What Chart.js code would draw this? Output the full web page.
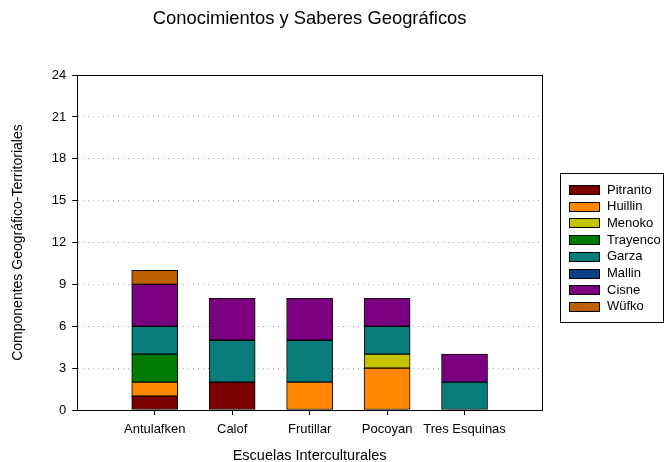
<!DOCTYPE html>
<html>
<head>
<meta charset="utf-8">
<script src="https://cdn.jsdelivr.net/npm/chart.js@4"></script>
<style>
  html, body { margin: 0; padding: 0; background: #fff; }
  #wrap { width: 665px; height: 462px; }
</style>
</head>
<body>
<div id="wrap"><canvas id="c" width="665" height="462"></canvas></div>
<script>
// categories padded with empty slots so bars sit one step in from each side
const escuelas = ['', 'Antulafken', 'Calof', 'Frutillar', 'Pocoyan', 'Tres Esquinas', ''];

const pitranto = [null, 1, 2, null, null, null, null];
const huillin  = [null, 1, null, 2, 3, null, null];
const menoko   = [null, null, null, null, 1, null, null];
const trayenco = [null, 2, null, null, null, null, null];
const garza    = [null, 2, 3, 3, 2, 2, null];
const mallin   = [null, null, null, null, null, null, null];
const cisne    = [null, 3, 3, 3, 2, 2, null];
const wufko    = [null, 1, null, null, null, null, null];

const yTicks = [0, 3, 6, 9, 12, 15, 18, 21, 24];

const series = [
  { label: 'Pitranto', data: pitranto, color: '#7b0000' },
  { label: 'Huillin',  data: huillin,  color: '#ff8800' },
  { label: 'Menoko',   data: menoko,   color: '#c4c400' },
  { label: 'Trayenco', data: trayenco, color: '#007b00' },
  { label: 'Garza',    data: garza,    color: '#087b7b' },
  { label: 'Mallin',   data: mallin,   color: '#0a3f86' },
  { label: 'Cisne',    data: cisne,    color: '#7b0080' },
  { label: 'Wüfko',    data: wufko,    color: '#bf6000' },
];

const FONT = "'Liberation Sans', Arial, sans-serif";

// box around the plot area
const framePlugin = {
  id: 'frame',
  afterDraw(chart) {
    const { ctx, chartArea: a } = chart;
    ctx.save();
    ctx.strokeStyle = '#000';
    ctx.lineWidth = 1;
    ctx.setLineDash([]);
    ctx.strokeRect(Math.round(a.left) + 0.5, Math.round(a.top) + 0.5,
                   Math.round(a.right - a.left), Math.round(a.bottom - a.top));
    ctx.restore();
  }
};

// boxed legend to the right of the plot, built from the datasets
const sideLegend = {
  id: 'sideLegend',
  afterDraw(chart) {
    const { ctx, chartArea: a } = chart;
    const sets = chart.data.datasets;
    const rowH = 16.7;
    const w = 103, h = 149;
    const x0 = Math.round(a.right) + 18;
    const y0 = Math.round((a.top + a.bottom) / 2 - h / 2) + 5;
    ctx.save();
    ctx.strokeStyle = '#000';
    ctx.lineWidth = 1;
    ctx.strokeRect(x0 + 0.5, y0 + 0.5, w, h);
    ctx.font = `13px ${FONT}`;
    ctx.textBaseline = 'middle';
    sets.forEach((ds, i) => {
      const cy = y0 + 16.5 + i * rowH;
      const by = Math.round(cy - 4.5);
      ctx.fillStyle = ds.backgroundColor;
      ctx.fillRect(x0 + 9, by, 30, 9);
      ctx.strokeStyle = '#000';
      ctx.strokeRect(x0 + 9.5, by + 0.5, 30, 9);
      ctx.fillStyle = '#000';
      ctx.fillText(ds.label, x0 + 47, cy + 0.5);
    });
    ctx.restore();
  }
};

new Chart(document.getElementById('c'), {
  type: 'bar',
  data: {
    labels: escuelas,
    datasets: series.map(s => ({
      label: s.label,
      data: s.data,
      backgroundColor: s.color,
      borderColor: '#000',
      borderWidth: 1,
      borderSkipped: false,
      barThickness: 46,
    })),
  },
  options: {
    responsive: false,
    animation: false,
    layout: { padding: { top: 0, right: 123, bottom: -3, left: 10 } },
    plugins: {
      title: {
        display: true,
        text: 'Conocimientos y Saberes Geográficos',
        fullSize: false,
        color: '#000',
        font: { family: FONT, size: 18.4, weight: 'normal' },
        padding: { top: 8, bottom: 45 },
      },
      legend: { display: false },
      tooltip: { enabled: false },
    },
    scales: {
      x: {
        stacked: true,
        offset: false,
        border: { color: '#000', width: 1 },
        grid: {
          offset: false,
          drawOnChartArea: false,
          tickLength: 5,
          tickColor: (c) => (c.index === 0 || c.index === escuelas.length - 1) ? 'rgba(0,0,0,0)' : '#000',
        },
        ticks: { color: '#000', font: { family: FONT, size: 13 }, maxRotation: 0, autoSkip: false, padding: 7 },
        title: {
          display: true,
          text: 'Escuelas Interculturales',
          color: '#000',
          font: { family: FONT, size: 14.5 },
          padding: { top: 3, bottom: 0 },
        },
      },
      y: {
        stacked: true,
        min: 0,
        max: 24,
        afterBuildTicks: (axis) => { axis.ticks = yTicks.map(v => ({ value: v })); },
        border: { color: '#000', width: 1, dash: [1, 4] },
        grid: {
          color: '#a8a8a8',
          lineWidth: 1,
          tickLength: 5,
          tickColor: '#000',
          tickBorderDash: [],
        },
        ticks: { color: '#000', font: { family: FONT, size: 13 }, padding: 6 },
        title: {
          display: true,
          text: 'Componentes Geográfico-Territoriales',
          color: '#000',
          font: { family: FONT, size: 14 },
          padding: { top: 0, bottom: 19 },
        },
      },
    },
  },
  plugins: [framePlugin, sideLegend],
});
</script>
</body>
</html>
